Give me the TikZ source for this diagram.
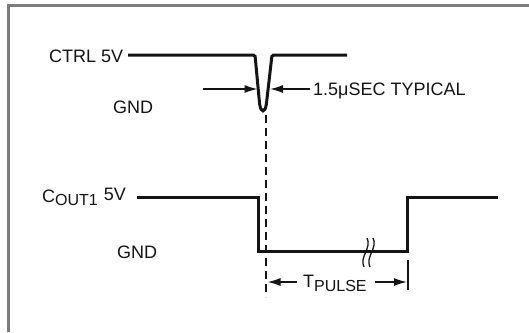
\documentclass[tikz,border=0pt]{standalone}
\usepackage{fontspec}
\setmainfont{Liberation Sans}
\usetikzlibrary{arrows.meta}
\definecolor{frame}{RGB}{125,125,125}
\definecolor{ink}{RGB}{20,20,20}
\begin{document}
\begin{tikzpicture}[x=1pt,y=-1pt,
  sig/.style={line width=3pt, draw=ink, line join=miter},
  dim/.style={line width=1.4pt, draw=ink, -{Latex[length=13pt,width=8pt]}},
  thin/.style={line width=1.3pt, draw=ink},
  lbl/.style={font=\fontsize{18}{20}\selectfont, text=ink, inner sep=0pt},
  sub/.style={font=\fontsize{16}{18}\selectfont}
]
\useasboundingbox (0,0) rectangle (529,332);
\fill[white] (0,0) rectangle (529,332);
\fill[frame] (7,4) rectangle (529,7);
\fill[frame] (7,4) rectangle (9.5,332);

% labels
\node[lbl, anchor=base west] (ctrl) at (49,62) {CTRL 5V};
\node[lbl, anchor=base west] (gnd1) at (113,113) {GND};
\node[lbl, anchor=base west] (typ) at (313,95) {1.5μSEC TYPICAL};
\node[lbl, anchor=base west] (cout) at (42,202) {C\raisebox{-3pt}{\fontsize{16}{18}\selectfont OUT1}\hspace{6pt}\raisebox{2pt}{5V}};
\node[lbl, anchor=base west] (gnd2) at (117,258) {GND};
\node[lbl, anchor=base west] (tp) at (303,287) {T\raisebox{-4pt}{\fontsize{16}{18}\selectfont PULSE}};

% CTRL waveform
\draw[sig, rounded corners=1.5pt] (128,55) -- (255,55) -- (259.5,103)
  .. controls (261,113) and (265,113) .. (266.5,103) -- (272,55) -- (347,55);

% 1.5us arrows
\coordinate (a1s) at (203,89);
\coordinate (a1e) at (257.5,89);
\coordinate (a2s) at (310,89);
\coordinate (a2e) at (270,89);
\draw[dim] (a1s) -- (a1e);
\draw[dim] (a2s) -- (a2e);

% dashed reference line
\coordinate (d0) at (266,115);
\coordinate (d1) at (266,297);
\draw[thin, dash pattern=on 8pt off 5pt] (d0) -- (d1);

% COUT1 waveform
\draw[sig] (137,197) -- (258,197) -- (258,251) -- (407,251) -- (407,197) -- (498,197);

% break marks
\draw[thin] (364,267) .. controls (359,257) and (372,248) .. (367,238);
\draw[thin] (370,267) .. controls (365,257) and (378,248) .. (373,238);

% TPULSE dimension
\coordinate (t0) at (408,260);
\coordinate (t1) at (408,290);
\draw[thin] (t0) -- (t1);
\coordinate (p1s) at (297,282);
\coordinate (p1e) at (267.5,282);
\coordinate (p2s) at (375,282);
\coordinate (p2e) at (407,282);
\draw[dim] (p1s) -- (p1e);
\draw[dim] (p2s) -- (p2e);
\end{tikzpicture}
\end{document}
